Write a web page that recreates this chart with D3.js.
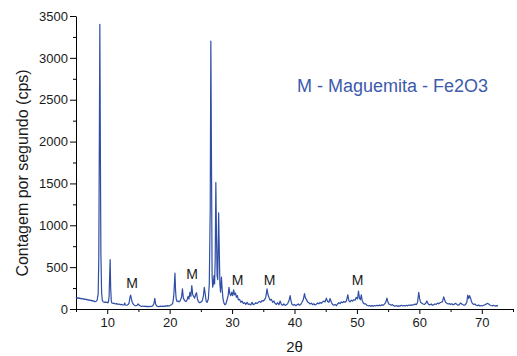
<!DOCTYPE html>
<html>
<head>
<meta charset="utf-8">
<script src="https://cdn.jsdelivr.net/npm/d3@7"></script>
<style>
  html, body { margin: 0; padding: 0; background: #fff; }
  svg { display: block; font-family: "Liberation Sans", Arial, sans-serif; }
</style>
</head>
<body>
<svg id="chart" width="517" height="356"></svg>
<script>
// XRD pattern: [2theta, counts per second]
const pattern = [
  [5.0,140],[5.1,132],[5.2,136],[5.3,128],[5.4,134],[5.5,126],[5.6,130],[5.7,124],[5.8,128],[5.9,120],
  [6.0,126],[6.2,118],[6.3,122],[6.4,114],[6.6,118],[6.7,110],[6.8,114],[7.0,106],[7.1,110],[7.2,102],
  [7.4,106],[7.5,96],[7.6,100],[7.8,92],[7.9,96],[8.0,88],[8.2,92],[8.3,96],[8.4,110],
  [8.55,180],[8.65,600],[8.75,2200],[8.82,3400],[8.9,2000],[8.98,700],[9.1,200],[9.2,110],
  [9.3,92],[9.4,84],[9.6,80],[9.7,86],[9.8,78],[10.0,82],[10.1,74],[10.2,84],[10.3,150],[10.4,420],
  [10.47,590],[10.55,260],[10.65,100],[10.75,72],[11.0,66],[11.1,70],[11.3,60],[11.5,64],[11.7,56],
  [11.9,60],[12.1,52],[12.3,56],[12.5,48],[12.7,50],[12.8,72],[12.9,48],[13.1,45],[13.3,50],[13.5,70],
  [13.65,140],[13.75,165],[13.85,130],[14.0,80],[14.2,55],[14.4,42],[14.6,38],[14.8,45],[14.95,60],
  [15.1,48],[15.3,36],[15.5,32],[15.7,36],[15.9,30],[16.1,34],[16.3,28],[16.5,32],[16.7,28],[16.9,33],
  [17.1,30],[17.3,38],[17.5,70],[17.62,128],[17.75,60],[17.9,38],[18.1,32],[18.3,28],[18.5,34],[18.7,30],
  [18.9,35],[19.1,32],[19.3,38],[19.5,34],[19.7,40],[19.9,36],[20.1,44],[20.3,50],[20.5,70],[20.65,150],
  [20.75,280],[20.85,430],[20.95,220],[21.05,120],[21.2,90],[21.35,95],[21.5,85],[21.7,100],[21.9,140],
  [22.05,240],[22.2,130],[22.4,100],[22.6,88],[22.8,110],[22.95,150],[23.1,120],[23.25,200],[23.4,150],
  [23.55,280],[23.7,170],[23.85,150],[24.0,130],[24.15,170],[24.3,195],[24.45,120],[24.6,90],[24.8,75],
  [25.0,82],[25.2,95],[25.4,150],[25.55,260],[25.7,180],[25.85,90],[26.0,80],[26.2,120],[26.35,300],
  [26.5,1200],[26.6,3200],[26.7,1800],[26.8,400],[26.9,260],[27.0,300],[27.1,400],[27.2,300],[27.3,600],
  [27.4,1510],[27.5,900],[27.6,400],[27.7,350],[27.85,1150],[27.95,700],[28.05,300],[28.15,200],
  [28.3,380],[28.4,250],[28.55,120],[28.7,70],[28.85,50],[29.0,60],[29.2,110],[29.35,150],[29.5,260],
  [29.65,180],[29.8,160],[29.95,200],[30.1,160],[30.25,230],[30.4,170],[30.55,190],[30.7,140],[30.85,160],
  [31.0,110],[31.2,115],[31.4,80],[31.6,95],[31.8,65],[32.0,75],[32.2,55],[32.4,80],[32.6,55],[32.8,60],
  [33.0,48],[33.2,80],[33.4,52],[33.6,60],[33.8,75],[34.0,65],[34.2,80],[34.4,90],[34.6,80],[34.8,100],
  [35.0,95],[35.2,110],[35.4,140],[35.6,240],[35.75,170],[35.9,140],[36.1,105],[36.3,115],[36.5,80],
  [36.7,95],[36.9,65],[37.1,55],[37.3,75],[37.5,50],[37.7,95],[37.9,55],[38.1,45],[38.3,60],[38.5,42],
  [38.7,50],[38.9,65],[39.1,95],[39.3,160],[39.45,95],[39.6,55],[39.8,45],[40.0,55],[40.2,40],[40.4,50],
  [40.6,60],[40.8,45],[41.0,55],[41.2,80],[41.4,110],[41.6,185],[41.75,130],[41.9,115],[42.1,85],
  [42.3,75],[42.5,60],[42.7,70],[42.9,52],[43.1,62],[43.3,48],[43.5,58],[43.7,72],[43.9,62],[44.1,78],
  [44.3,68],[44.5,85],[44.7,95],[44.9,85],[45.1,130],[45.3,90],[45.5,80],[45.7,125],[45.9,80],[46.1,55],
  [46.3,45],[46.5,55],[46.7,40],[46.9,60],[47.1,75],[47.3,65],[47.5,85],[47.7,75],[47.9,90],[48.1,80],
  [48.3,95],[48.55,170],[48.7,100],[48.9,85],[49.1,105],[49.3,95],[49.5,110],[49.7,105],[49.9,140],
  [50.1,120],[50.25,215],[50.4,130],[50.55,110],[50.7,170],[50.85,100],[51.0,75],[51.2,60],[51.4,62],
  [51.6,45],[51.8,38],[52.0,42],[52.2,32],[52.4,40],[52.6,34],[52.8,42],[53.0,36],[53.2,44],[53.4,38],
  [53.6,46],[53.8,40],[54.0,50],[54.2,45],[54.4,58],[54.6,75],[54.8,130],[54.95,90],[55.1,60],[55.3,55],
  [55.5,45],[55.7,52],[55.9,38],[56.1,34],[56.3,42],[56.5,32],[56.7,38],[56.9,34],[57.1,45],[57.3,38],
  [57.5,42],[57.7,35],[57.9,44],[58.1,38],[58.3,48],[58.5,42],[58.7,50],[58.9,45],[59.1,52],[59.3,58],
  [59.5,52],[59.7,75],[59.9,200],[60.05,120],[60.2,80],[60.4,70],[60.6,60],[60.8,55],[61.0,65],
  [61.2,95],[61.35,70],[61.5,55],[61.7,50],[61.9,60],[62.1,45],[62.3,52],[62.5,60],[62.7,55],[62.9,70],
  [63.1,62],[63.3,75],[63.5,80],[63.7,88],[63.9,145],[64.05,110],[64.2,80],[64.4,70],[64.6,60],
  [64.8,65],[65.0,55],[65.2,62],[65.4,50],[65.6,58],[65.8,68],[66.0,55],[66.2,45],[66.4,52],[66.6,72],
  [66.8,60],[67.0,50],[67.2,45],[67.4,55],[67.6,80],[67.75,165],[67.9,125],[68.05,160],[68.2,130],
  [68.35,90],[68.5,65],[68.7,55],[68.9,60],[69.1,45],[69.3,40],[69.5,48],[69.7,36],[69.9,42],[70.1,38],
  [70.3,45],[70.5,50],[70.7,58],[70.9,68],[71.1,60],[71.3,48],[71.5,42],[71.7,38],[71.9,44],[72.1,36],
  [72.3,40],[72.6,38]
]

// "M" markers (2theta, counts of the label baseline)
const markerX = [14.0, 23.6, 30.9, 36.0, 50.1]
const markerY = [250, 355, 285, 285, 285]

const xTicks = [10, 20, 30, 40, 50, 60, 70]
const xMinorTicks = [5, 15, 25, 35, 45, 55, 65, 75]
const yTicks = [0, 500, 1000, 1500, 2000, 2500, 3000, 3500]
const yMinorTicks = [250, 750, 1250, 1750, 2250, 2750, 3250]

const legendText = 'M - Maguemita - Fe2O3'
const xLabel = '2θ'
const yLabel = 'Contagem por segundo (cps)'

const width = 517
const height = 356
const marginLeft = 76
const marginRight = 4
const marginTop = 16
const marginBottom = 47

const lineColor = '#2f4ea5'
const textColor = '#1a1a1a'

const svg = d3.select('#chart')

const x = d3.scaleLinear()
  .domain([5, 75])
  .range([marginLeft, width - marginRight])

const y = d3.scaleLinear()
  .domain([0, 3500])
  .range([height - marginBottom, marginTop])

// minor ticks first, majors on top
svg.append('g')
  .attr('transform', `translate(0,${height - marginBottom})`)
  .call(d3.axisBottom(x).tickValues(xMinorTicks).tickSize(3).tickSizeOuter(0).tickFormat(''))
  .call(g => g.select('.domain').remove())

svg.append('g')
  .attr('transform', `translate(${marginLeft},0)`)
  .call(d3.axisLeft(y).tickValues(yMinorTicks).tickSize(3).tickSizeOuter(0).tickFormat(''))
  .call(g => g.select('.domain').remove())

const xAxis = svg.append('g')
  .attr('transform', `translate(0,${height - marginBottom})`)
  .call(d3.axisBottom(x).tickValues(xTicks).tickSize(5).tickSizeOuter(0).tickPadding(4).tickFormat(d3.format('d')))

const yAxis = svg.append('g')
  .attr('transform', `translate(${marginLeft},0)`)
  .call(d3.axisLeft(y).tickValues(yTicks).tickSize(6).tickSizeOuter(0).tickPadding(2).tickFormat(d3.format('d')))

for (const g of [xAxis, yAxis]) {
  g.selectAll('text')
    .attr('font-size', 13)
    .attr('font-family', '"Liberation Sans", Arial, sans-serif')
    .attr('fill', textColor)
  g.selectAll('line, path').attr('stroke', '#000')
}

// pattern line
const line = d3.line()
  .x(d => x(d[0]))
  .y(d => y(d[1]))

svg.append('path')
  .datum(pattern)
  .attr('fill', 'none')
  .attr('stroke', lineColor)
  .attr('stroke-width', 1.2)
  .attr('stroke-linejoin', 'round')
  .attr('d', line)

// M labels
svg.selectAll('.marker')
  .data(markerX)
  .join('text')
  .attr('class', 'marker')
  .attr('x', d => x(d))
  .attr('y', (d, i) => y(markerY[i]))
  .attr('text-anchor', 'middle')
  .attr('font-size', 14)
  .attr('fill', textColor)
  .text('M')

// legend note
svg.append('text')
  .attr('x', 297)
  .attr('y', 92)
  .attr('font-size', 18)
  .attr('fill', '#3d5aab')
  .text(legendText)

// axis titles
svg.append('text')
  .attr('x', (marginLeft + width - marginRight) / 2)
  .attr('y', 352)
  .attr('text-anchor', 'middle')
  .attr('font-size', 15)
  .attr('fill', textColor)
  .text(xLabel)

svg.append('text')
  .attr('transform', `translate(28,173) rotate(-90)`)
  .attr('text-anchor', 'middle')
  .attr('font-size', 16)
  .attr('fill', textColor)
  .text(yLabel)
</script>
</body>
</html>
